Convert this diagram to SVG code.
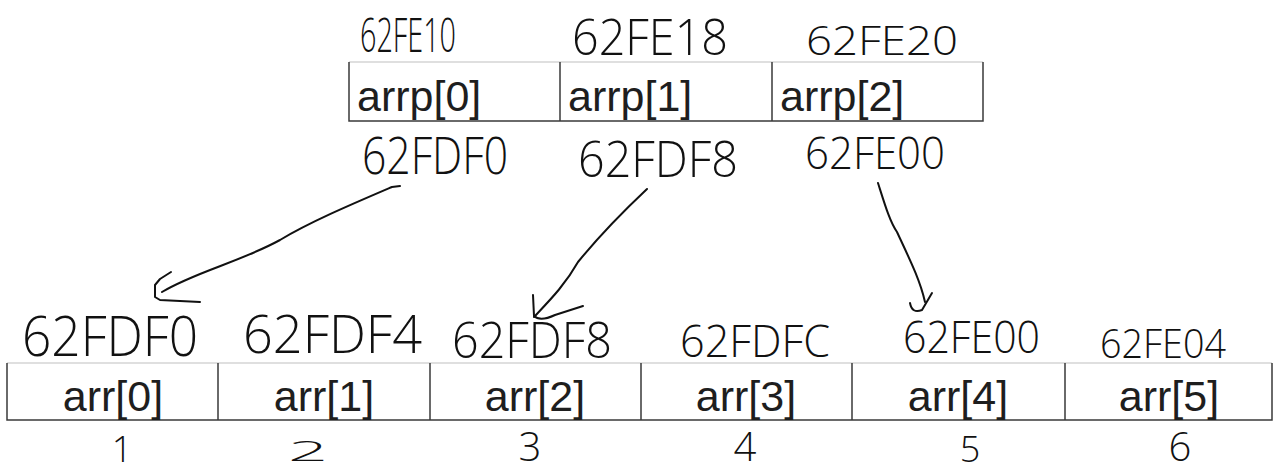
<svg xmlns="http://www.w3.org/2000/svg" width="1278" height="472" viewBox="0 0 1278 472">
<style>
.edge{stroke:#3a3a3a;stroke-width:1.5;fill:none}
.topedge{stroke:#d4d4d4;stroke-width:1.5;fill:none}
.lbl{font-family:"Liberation Sans",Arial,sans-serif;font-size:43px;fill:#1e1e1e}
.hw{font-family:"Open Sans","DejaVu Sans",sans-serif;font-weight:300;fill:#111}
.pen{stroke:#111;stroke-width:2;fill:none;stroke-linecap:round;stroke-linejoin:round}
</style>
<rect width="1278" height="472" fill="#fff"/>

<g id="arrp-table">
  <line class="topedge" x1="349" y1="62" x2="983" y2="62"/>
  <path class="edge" d="M349,62 V121 H983 V62 M560,62 V121 M772,62 V121"/>
</g>
<g id="arrp0"><text class="lbl" x="357" y="111">arrp[0]</text></g>
<g id="arrp1"><text class="lbl" x="568" y="111">arrp[1]</text></g>
<g id="arrp2"><text class="lbl" x="780" y="111">arrp[2]</text></g>

<g id="arr-table">
  <line class="topedge" x1="7" y1="363" x2="1272" y2="363"/>
  <path class="edge" d="M7,363 V420 H1272 V363 M218,363 V420 M430,363 V420 M641,363 V420 M852,363 V420 M1065,363 V420"/>
</g>
<g id="arr0"><text class="lbl" x="113" y="411" text-anchor="middle">arr[0]</text></g>
<g id="arr1"><text class="lbl" x="324" y="411" text-anchor="middle">arr[1]</text></g>
<g id="arr2"><text class="lbl" x="535" y="411" text-anchor="middle">arr[2]</text></g>
<g id="arr3"><text class="lbl" x="746" y="411" text-anchor="middle">arr[3]</text></g>
<g id="arr4"><text class="lbl" x="958" y="411" text-anchor="middle">arr[4]</text></g>
<g id="arr5"><text class="lbl" x="1169" y="411" text-anchor="middle">arr[5]</text></g>

<g id="arrp-addresses">
  <text class="hw" x="360" y="52" font-size="48" textLength="96" lengthAdjust="spacingAndGlyphs">62FE10</text>
  <text class="hw" x="572" y="55" font-size="50" textLength="156" lengthAdjust="spacingAndGlyphs">62FE18</text>
  <text class="hw" x="806" y="55" font-size="40" textLength="152" lengthAdjust="spacingAndGlyphs">62FE20</text>
</g>
<g id="arrp-values">
  <text class="hw" x="362" y="174" font-size="52" textLength="146" lengthAdjust="spacingAndGlyphs">62FDF0</text>
  <text class="hw" x="578" y="177" font-size="50" textLength="160" lengthAdjust="spacingAndGlyphs">62FDF8</text>
  <text class="hw" x="805" y="169" font-size="44" textLength="140" lengthAdjust="spacingAndGlyphs">62FE00</text>
</g>
<g id="arr-addresses">
  <text class="hw" x="22" y="356" font-size="56" textLength="176" lengthAdjust="spacingAndGlyphs">62FDF0</text>
  <text class="hw" x="243" y="353" font-size="54" textLength="179" lengthAdjust="spacingAndGlyphs">62FDF4</text>
  <text class="hw" x="452" y="358" font-size="50" textLength="160" lengthAdjust="spacingAndGlyphs">62FDF8</text>
  <text class="hw" x="680" y="357" font-size="44" textLength="150" lengthAdjust="spacingAndGlyphs">62FDFC</text>
  <text class="hw" x="903" y="353" font-size="44" textLength="137" lengthAdjust="spacingAndGlyphs">62FE00</text>
  <text class="hw" x="1100" y="358" font-size="40" textLength="126" lengthAdjust="spacingAndGlyphs">62FE04</text>
</g>
<g id="arr-values">
  <text class="hw" x="122" y="462" font-size="36" text-anchor="middle">1</text>
  <text class="hw" x="308" y="461" font-size="28" text-anchor="middle" textLength="40" lengthAdjust="spacingAndGlyphs">2</text>
  <text class="hw" x="530" y="461" font-size="40" text-anchor="middle">3</text>
  <text class="hw" x="745" y="461" font-size="40" text-anchor="middle">4</text>
  <text class="hw" x="970" y="462" font-size="36" text-anchor="middle">5</text>
  <text class="hw" x="1180" y="461" font-size="40" text-anchor="middle">6</text>
</g>

<g id="connectors">
  <path class="pen" d="M400,186 L392,187 C350,205 310,222 280,240 C240,262 195,272 162,292"/>
  <path class="pen" d="M171,272 L160,279 L155,285 L155,297 L160,300 L200,302"/>
  <path class="pen" d="M647,189 C630,205 600,235 578,262 C565,285 550,300 534,317"/>
  <path class="pen" d="M533,295 L534,316 Q540,322 555,315 L583,306"/>
  <path class="pen" d="M878,183 C885,205 890,222 897,232 C910,260 920,280 925,302"/>
  <path class="pen" d="M910,303 Q912,314 922,310 L932,293"/>
</g>
</svg>
